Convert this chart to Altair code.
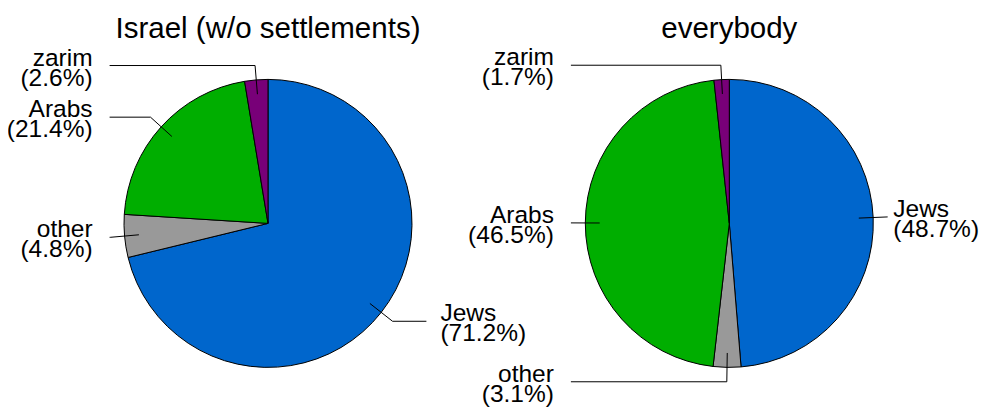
import math
import altair as alt
import pandas as pd

# ---- data ----
GROUPS = ["Israel (w/o settlements)", "everybody"]
CATEGORIES = ["Jews", "other", "Arabs", "zarim"]
ISRAEL_VALUES = [71.2, 4.8, 21.4, 2.6]
EVERYBODY_VALUES = [48.7, 3.1, 46.5, 1.7]
COLORS = ["#0066CC", "#999999", "#00AE00", "#780078"]

# ---- layout ----
PX = 144                 # pixels per pie radius
W, H = 971, 399          # whole drawing area (autosize none, no padding)
CX_PX = [260, 721.3]     # pie centres (px from plot left)
CY_PX = 215.4            # pie centre (px from plot top)
FONT = "Liberation Sans"
FS = 24.5                # label font size
LABEL_W = 3.5 * FS       # widest label line "(00.0%)" in Liberation Sans

xs = alt.Scale(domain=[-CX_PX[0] / PX, (W - CX_PX[0]) / PX], nice=False, zero=False)
ys = alt.Scale(domain=[-(H - CY_PX) / PX, CY_PX / PX], nice=False, zero=False)
X = lambda f: alt.X(f, scale=xs, axis=None)
Y = lambda f: alt.Y(f, scale=ys, axis=None)
x_max_label = (W - LABEL_W - CX_PX[0]) / PX   # keep right labels inside


def pie_layers(k, title, values):
    off = (CX_PX[k] - CX_PX[0]) / PX
    total = sum(values)
    slices = pd.DataFrame({
        "category": CATEGORIES, "value": values,
        "idx": list(range(len(values))), "cx": off, "cy": 0.0,
    })
    segs, labels = [], []
    cum = 0.0
    for cat, v in zip(CATEGORIES, values):
        mid = (cum + v / 2) / total * 2 * math.pi
        cum += v
        s, c = math.sin(mid), math.cos(mid)
        px, py = off + 0.9 * s, 0.9 * c
        ex, ey = off + 1.1 * s, 1.1 * c
        side = 1 if s >= 0 else -1
        col = off + 1.1 * side
        segs.append({"x": px, "y": py, "x2": ex, "y2": ey})
        segs.append({"x": ex, "y": ey, "x2": col, "y2": ey})
        if side > 0:
            tx = min(col + 14 / PX, x_max_label)
        else:
            tx = col - 17 / PX
        labels.append({"x": tx, "y": ey, "side": side,
                       "text": f"{cat}\n({v:.1f}%)"})
    segs = pd.DataFrame(segs)
    labels = pd.DataFrame(labels)

    arc = alt.Chart(slices).mark_arc(
        outerRadius=PX, stroke="black", strokeWidth=1
    ).encode(
        theta=alt.Theta("value:Q", stack=True),
        order=alt.Order("idx:Q"),
        color=alt.Color("category:N",
                        scale=alt.Scale(domain=CATEGORIES, range=COLORS),
                        legend=None),
        x=X("cx:Q"), y=Y("cy:Q"),
    )
    rules = alt.Chart(segs).mark_rule(color="black", strokeWidth=1).encode(
        x=X("x:Q"), y=Y("y:Q"), x2="x2:Q", y2="y2:Q",
    )
    common = dict(fontSize=FS, font=FONT, lineBreak="\n", lineHeight=20,
                  baseline="alphabetic", dy=0, color="black")
    left_txt = alt.Chart(labels[labels.side < 0]).mark_text(
        align="right", **common
    ).encode(x=X("x:Q"), y=Y("y:Q"), text="text:N")
    right_txt = alt.Chart(labels[labels.side > 0]).mark_text(
        align="left", **common
    ).encode(x=X("x:Q"), y=Y("y:Q"), text="text:N")
    ttl = alt.Chart(pd.DataFrame({"t": [title], "x": [off]})).mark_text(
        fontSize=29.5, font=FONT, align="center", baseline="alphabetic",
        color="black"
    ).encode(x=X("x:Q"), y=alt.value(29.5), text="t:N")
    return [arc, rules, left_txt, right_txt, ttl]


layers = (pie_layers(0, GROUPS[0], ISRAEL_VALUES)
          + pie_layers(1, GROUPS[1], EVERYBODY_VALUES))

chart = alt.layer(*layers).resolve_scale(theta="independent").properties(
    width=W, height=H, padding=0,
    autosize=alt.AutoSizeParams(type="none"),
).configure_view(stroke=None)

chart.save("out.html", embed_options={"renderer": "svg", "actions": False})
